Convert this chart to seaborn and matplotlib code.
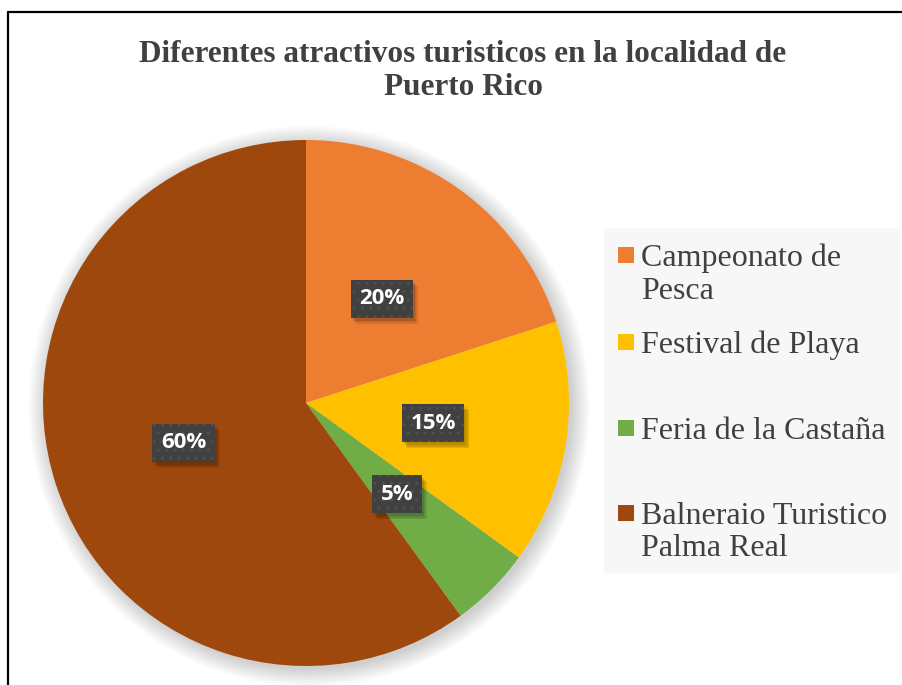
import matplotlib
matplotlib.use("Agg")
import matplotlib.pyplot as plt
import seaborn as sns
from matplotlib.lines import Line2D
from matplotlib.patches import Circle, Rectangle

# data
categories = ["Campeonato de\nPesca", "Festival de Playa", "Feria de la Castaña",
              "Balneraio Turistico\nPalma Real"]
shares = [20, 15, 5, 60]
colors = ["#ED7D31", "#FFC000", "#70AD47", "#9E480E"]
title = "Diferentes atractivos turisticos en la localidad de\nPuerto Rico"

sns.set_theme(style="white")
plt.rcParams["font.family"] = ["Liberation Serif", "DejaVu Serif"]

W, H = 902, 685
fig = plt.figure(figsize=(W / 100, H / 100), dpi=100)
fig.patch.set_facecolor("white")

# chart border (top and left visible)
fig.add_artist(Line2D([8 / W, 1], [1 - 12 / H, 1 - 12 / H], color="black", lw=1.6))
fig.add_artist(Line2D([8 / W, 8 / W], [0, 1 - 12 / H], color="black", lw=1.6))

# title
fig.text(463 / W, 1 - 71 / H, title, ha="center", va="center", fontsize=22.5,
         fontweight="bold", color="#404040", linespacing=1.2)

# pie
cx, cy, r = 306, 403, 263
ax = fig.add_axes([(cx - r) / W, (H - cy - r) / H, 2 * r / W, 2 * r / H])
palette = sns.color_palette(colors)

# soft shadow behind the pie
for k in range(12):
    ax.add_patch(Circle((0.012, -0.012), 1.0 + k * 0.006, color="black",
                        alpha=0.015, lw=0, zorder=0, clip_on=False))

wedges, _, autotexts = ax.pie(
    shares,
    colors=palette,
    startangle=90,
    counterclock=False,
    autopct="%1.0f%%",
    pctdistance=0.49,
    wedgeprops=dict(linewidth=0),
    textprops=dict(color="white", fontsize=16, fontweight="bold",
                   family=["Open Sans", "DejaVu Sans"]),
)
for w in wedges:
    w.set_zorder(2)
for t in autotexts:
    t.set_zorder(5)
    t.set_bbox(dict(boxstyle="square,pad=0.38", facecolor="#404040",
                    edgecolor="#505050", linewidth=0, hatch=".."))
ax.set_xlim(-1, 1)
ax.set_ylim(-1, 1)
ax.set_aspect("equal")
ax.axis("off")

# soft drop shadow under each label box (drawn below the labels)
fig.canvas.draw()
inv = ax.transData.inverted()
for t in autotexts:
    bb = t.get_bbox_patch().get_window_extent()
    for i in range(3):
        off = 2 + i * 1.5
        (x0, y0), (x1, y1) = inv.transform([(bb.x0 + off, bb.y0 - off - 1),
                                            (bb.x1 + off, bb.y1 - off - 1)])
        ax.add_patch(Rectangle((x0, y0), x1 - x0, y1 - y0, facecolor="black",
                               alpha=0.10, lw=0, zorder=4))

# legend panel
lx0, ly0, lx1, ly1 = 604, 228, 900, 573
lax = fig.add_axes([lx0 / W, (H - ly1) / H, (lx1 - lx0) / W, (ly1 - ly0) / H])
lax.set_xlim(lx0, lx1)
lax.set_ylim(ly1, ly0)
lax.set_facecolor("#F7F7F7")
for s in lax.spines.values():
    s.set_visible(False)
lax.set_xticks([])
lax.set_yticks([])

first_line_y = [255, 342, 428, 513]
for label, col, y in zip(categories, palette, first_line_y):
    lax.add_patch(Rectangle((618, y - 8), 16, 16, facecolor=col, lw=0))
    lax.text(641, y - 11, label, ha="left", va="top", fontsize=23,
             color="#404040", linespacing=1.15)

fig.savefig("out.png", dpi=100)
